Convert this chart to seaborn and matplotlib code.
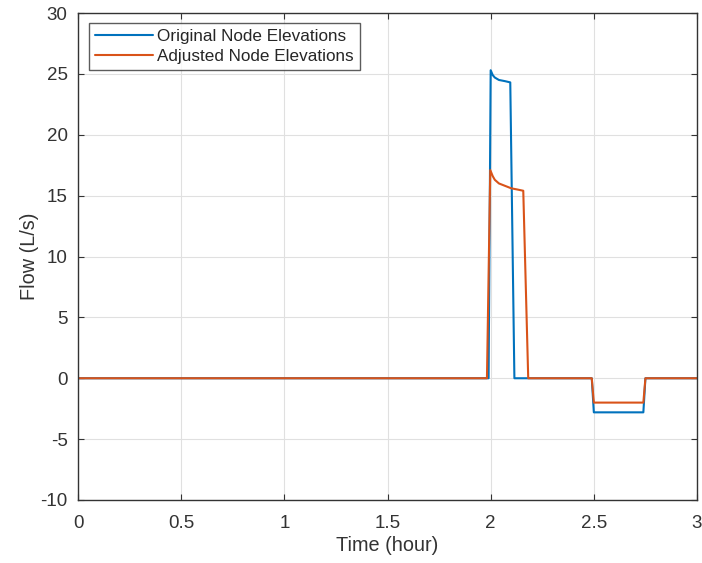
import matplotlib
matplotlib.use("Agg")
import matplotlib.pyplot as plt
import seaborn as sns
import pandas as pd

# ---- data ----
time_original = [0.0, 1.99, 2.00, 2.01, 2.02, 2.04, 2.07, 2.095, 2.115, 2.49, 2.50, 2.74, 2.75, 3.0]
flow_original = [0.0, 0.0, 25.3, 24.9, 24.7, 24.5, 24.4, 24.3, 0.0, 0.0, -2.8, -2.8, 0.0, 0.0]

time_adjusted = [0.0, 1.982, 1.998, 2.01, 2.02, 2.04, 2.07, 2.10, 2.13, 2.158, 2.182, 2.49, 2.50, 2.74, 2.75, 3.0]
flow_adjusted = [0.0, 0.0, 17.1, 16.6, 16.3, 16.0, 15.8, 15.6, 15.5, 15.4, 0.0, 0.0, -2.0, -2.0, 0.0, 0.0]

series_names = ["Original Node Elevations", "Adjusted Node Elevations"]
x_ticks = [0, 0.5, 1, 1.5, 2, 2.5, 3]
x_tick_labels = ["0", "0.5", "1", "1.5", "2", "2.5", "3"]
y_ticks = [-10, -5, 0, 5, 10, 15, 20, 25, 30]
y_tick_labels = ["-10", "-5", "0", "5", "10", "15", "20", "25", "30"]
colors = ["#0072BD", "#D95319"]

df = pd.concat([
    pd.DataFrame({"Time": time_original, "Flow": flow_original, "Series": series_names[0]}),
    pd.DataFrame({"Time": time_adjusted, "Flow": flow_adjusted, "Series": series_names[1]}),
], ignore_index=True)

sns.set_theme(style="white")
plt.rcParams["font.family"] = ["Liberation Sans", "DejaVu Sans"]

fig = plt.figure(figsize=(7.02, 5.63), dpi=100)
ax = fig.add_axes([78 / 702, 63 / 563, 619 / 702, 487 / 563])

sns.lineplot(data=df, x="Time", y="Flow", hue="Series", hue_order=series_names,
             palette=colors, sort=False, estimator=None, linewidth=1.5, ax=ax)

ax.set_xlim(0, 3)
ax.set_ylim(-10, 30)
ax.set_xticks(x_ticks)
ax.set_xticklabels(x_tick_labels)
ax.set_yticks(y_ticks)
ax.set_yticklabels(y_tick_labels)
ax.grid(True, color="#e0e0e0", linewidth=0.8)
ax.set_axisbelow(True)
ax.tick_params(axis="both", which="both", direction="in", length=4, width=0.8,
               colors="#333333", labelsize=13.5, labelcolor="#333333",
               top=True, right=True, bottom=True, left=True)
ax.tick_params(axis="x", pad=10.5)
ax.tick_params(axis="y", pad=7.5)
for s in ax.spines.values():
    s.set_color("#333333")
    s.set_linewidth(1.0)

ax.set_xlabel("Time (hour)", fontsize=14.3, color="#333333", labelpad=3)
ax.set_ylabel("Flow (L/s)", fontsize=14.3, color="#333333", labelpad=1)

leg = ax.legend(loc="upper left", bbox_to_anchor=(11 / 619, 1 - 10 / 487), fontsize=12.3,
                frameon=True, fancybox=False, edgecolor="#333333",
                borderpad=0.35, labelspacing=0.3, handlelength=3.4,
                handletextpad=0.25, borderaxespad=0)
leg.get_frame().set_linewidth(1.0)

fig.savefig("out.png", dpi=100)
